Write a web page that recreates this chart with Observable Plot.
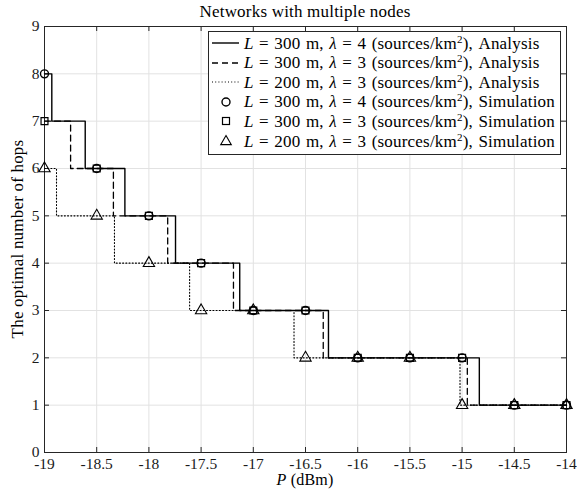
<!DOCTYPE html>
<html><head><meta charset="utf-8">
<script src="https://cdn.jsdelivr.net/npm/d3@7"></script>
<script src="https://cdn.jsdelivr.net/npm/@observablehq/plot@0.6"></script>
<style>
body{margin:0;background:#fff;}
#wrap{position:relative;width:577px;height:490px;font-family:"Liberation Serif",serif;color:#000;overflow:hidden;}
#wrap svg{display:block;}
.ov{position:absolute;white-space:nowrap;line-height:1;}
#title{left:305px;top:3px;transform:translateX(-50%);font-size:17px;letter-spacing:0.2px;}
#xlabel{left:305px;top:472px;transform:translateX(-50%);font-size:16px;letter-spacing:0.2px;}
#ylabel{left:17px;top:239px;transform:translate(-50%,-50%) rotate(-90deg);font-size:17px;letter-spacing:0.2px;}
#legend{left:208px;top:31px;width:351px;height:122px;border:1px solid #262626;background:#fff;}
.row{position:absolute;left:0;height:20px;display:flex;align-items:center;font-size:17px;letter-spacing:0.2px;word-spacing:1px;}
.row svg{width:32px;height:20px;margin-left:2px;margin-right:1px;}
sup{font-size:11px;vertical-align:6px;line-height:0;}
</style></head><body><div id="wrap"></div>
<script>
// ---- data ----
const xTicks = [-19, -18.5, -18, -17.5, -17, -16.5, -16, -15.5, -15, -14.5, -14];
const yTicks = [0, 1, 2, 3, 4, 5, 6, 7, 8, 9];

// Analysis step curves (change points)
const solidX = [-19, -18.93, -18.61, -18.23, -17.745, -17.13, -16.28, -14.835, -14];
const solidY = [8, 7, 6, 5, 4, 3, 2, 1, 1];
const dashedX = [-19, -18.75, -18.34, -17.82, -17.19, -16.33, -14.95, -14];
const dashedY = [7, 6, 5, 4, 3, 2, 1, 1];
const dottedX = [-19, -18.885, -18.33, -17.61, -16.61, -15.02, -14];
const dottedY = [6, 5, 4, 3, 2, 1, 1];

// Simulation points
const simP = [-19, -18.5, -18, -17.5, -17, -16.5, -16, -15.5, -15, -14.5, -14];
const simCircle = [8, 6, 5, 4, 3, 3, 2, 2, 2, 1, 1];
const simSquare = [7, 6, 5, 4, 3, 3, 2, 2, 2, 1, 1];
const simTriangle = [6, 5, 4, 3, 3, 2, 2, 2, 1, 1, 1];

// legend
const legL = [300, 300, 200, 300, 300, 200];
const legLambda = [4, 3, 3, 4, 3, 3];
const legKind = ["Analysis", "Analysis", "Analysis", "Simulation", "Simulation", "Simulation"];
const legStyle = ["solid", "dashed", "dotted", "circle", "square", "triangle"];

// ---- chart ----
const W = 577, H = 490, mL = 44, mR = 11, mT = 26, mB = 38;
const innerW = W - mL - mR, innerH = H - mT - mB, tl = 5;
const toPts = (xs, ys) => xs.map((x, i) => ({x, y: ys[i]}));
const sim = ys => simP.map((x, i) => ({x, y: ys[i]}));
const ink = "#000";
const axisInk = "#262626";

const chart = Plot.plot({
  width: W, height: H,
  marginLeft: mL, marginRight: mR, marginTop: mT, marginBottom: mB,
  style: {fontFamily: "Liberation Serif, serif", fontSize: "15.5px", background: "#fff", color: "#000", overflow: "visible"},
  x: {domain: [-19, -14]},
  y: {domain: [0, 9]},
  marks: [
    Plot.gridX(xTicks, {stroke: "#e2e2e2", strokeOpacity: 1}),
    Plot.gridY(yTicks, {stroke: "#e2e2e2", strokeOpacity: 1}),
    Plot.tickX(xTicks, {x: d => d, insetTop: innerH - tl, stroke: axisInk}),
    Plot.tickX(xTicks, {x: d => d, insetBottom: innerH - tl, stroke: axisInk}),
    Plot.tickY(yTicks, {y: d => d, insetRight: innerW - tl, stroke: axisInk}),
    Plot.tickY(yTicks, {y: d => d, insetLeft: innerW - tl, stroke: axisInk}),
    Plot.frame({stroke: axisInk, strokeWidth: 1}),
    Plot.axisX(xTicks, {tickSize: 0, tickPadding: 5, label: null, tickFormat: d => String(d), fill: "#1a1a1a"}),
    Plot.axisY(yTicks, {tickSize: 0, tickPadding: 5, label: null, tickFormat: d => String(d), fill: "#1a1a1a"}),
    Plot.line(toPts(dottedX, dottedY), {x: "x", y: "y", curve: "step-after", stroke: ink, strokeWidth: 1.1, strokeDasharray: "1,2.2"}),
    Plot.line(toPts(dashedX, dashedY), {x: "x", y: "y", curve: "step-after", stroke: ink, strokeWidth: 1.3, strokeDasharray: "6,4"}),
    Plot.line(toPts(solidX, solidY), {x: "x", y: "y", curve: "step-after", stroke: ink, strokeWidth: 1.4}),
    Plot.dot(sim(simCircle), {x: "x", y: "y", symbol: "circle", r: 4, stroke: ink, fill: "none", strokeWidth: 1.4}),
    Plot.dot(sim(simSquare), {x: "x", y: "y", symbol: "square", r: 3.9, stroke: ink, fill: "none", strokeWidth: 1.2}),
    Plot.dot(sim(simTriangle), {x: "x", y: "y", symbol: "triangle", r: 4.2, stroke: ink, fill: "none", strokeWidth: 1.1})
  ]
});
const wrap = document.getElementById("wrap");
wrap.appendChild(chart);

function addOv(id, html) {
  const d = document.createElement("div");
  d.className = "ov"; d.id = id; d.innerHTML = html;
  wrap.appendChild(d);
  return d;
}
addOv("title", "Networks with multiple nodes");
addOv("xlabel", "<i>P</i> (dBm)");
addOv("ylabel", "The optimal number of hops");

const leg = addOv("legend", "");
const sampleSvg = s => {
  if (s === "solid") return '<line x1="1" x2="28" y1="10" y2="10" stroke="#000" stroke-width="1.4"/>';
  if (s === "dashed") return '<line x1="1" x2="28" y1="10" y2="10" stroke="#000" stroke-width="1.3" stroke-dasharray="6,4"/>';
  if (s === "dotted") return '<line x1="1" x2="28" y1="10" y2="10" stroke="#000" stroke-width="1.1" stroke-dasharray="1,2.2"/>';
  if (s === "circle") return '<circle cx="15" cy="10" r="4" fill="none" stroke="#000" stroke-width="1.4"/>';
  if (s === "square") return '<rect x="11.5" y="6.5" width="7" height="7" fill="none" stroke="#000" stroke-width="1.2"/>';
  return '<path d="M15,4.5L20.3,13.6L9.7,13.6Z" fill="none" stroke="#000" stroke-width="1.1"/>';
};
legL.forEach((L, i) => {
  const r = document.createElement("div");
  r.className = "row";
  r.style.top = (1 + i * 19.6) + "px";
  r.innerHTML = `<svg viewBox="0 0 32 20">${sampleSvg(legStyle[i])}</svg><span><i>L</i> = ${L} m, <i>λ</i> = ${legLambda[i]} (sources/km<sup>2</sup>), ${legKind[i]}</span>`;
  leg.appendChild(r);
});
</script>
</body></html>
